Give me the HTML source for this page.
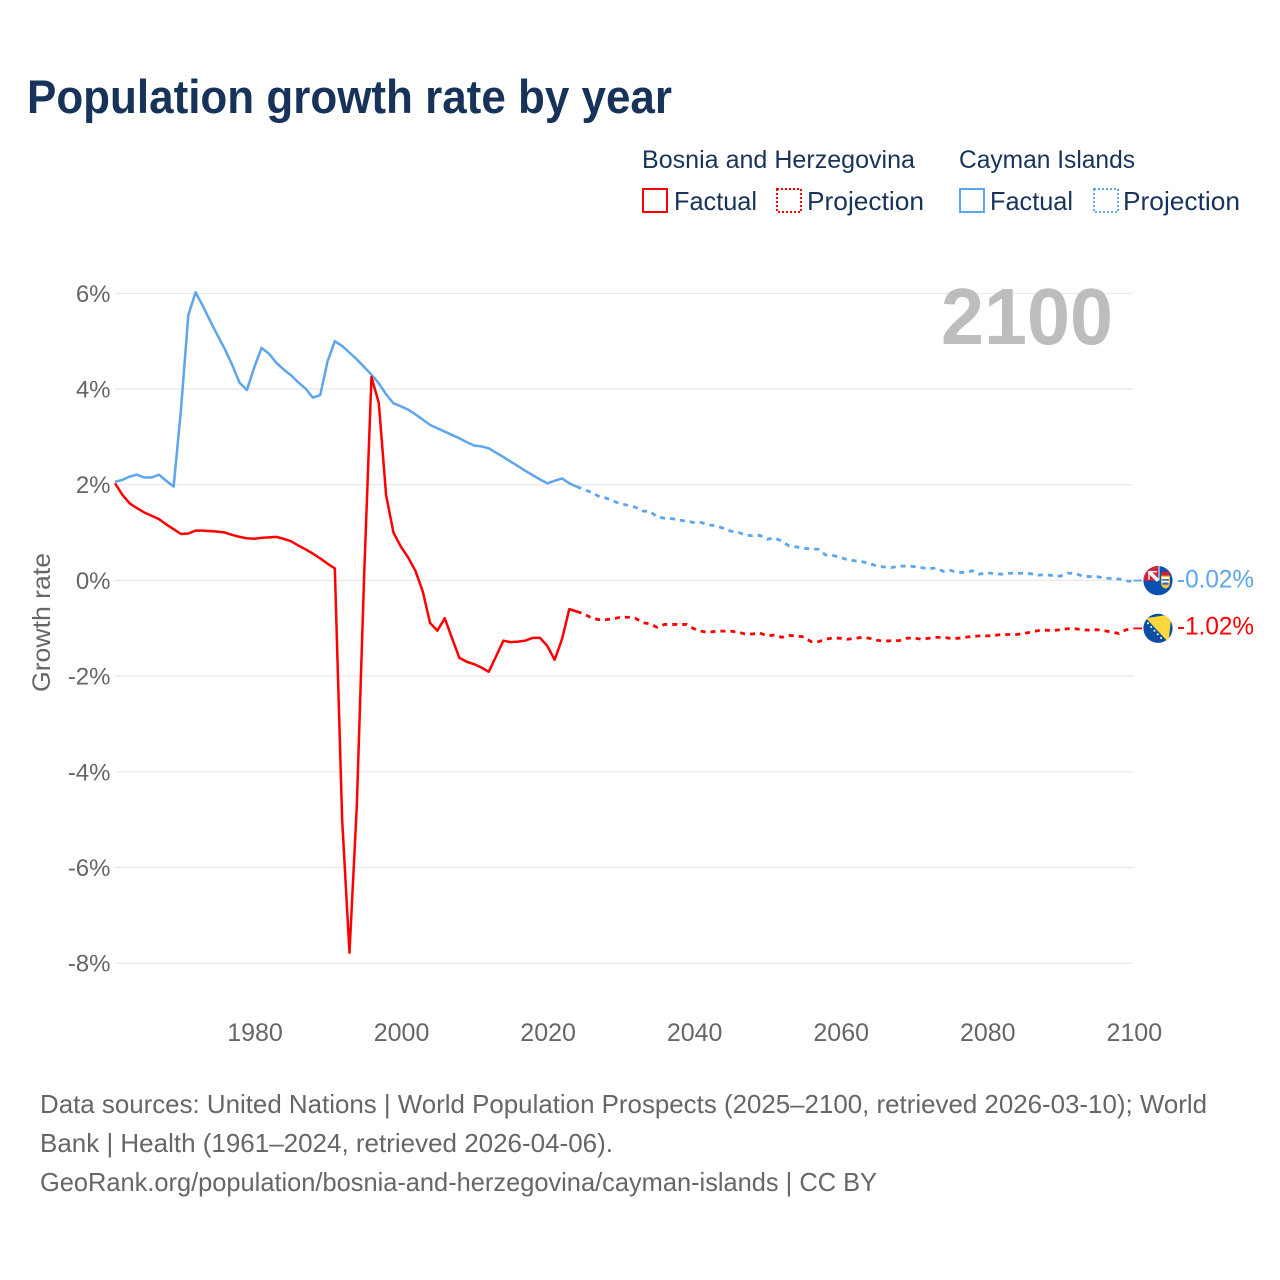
<!DOCTYPE html>
<html lang="en">
<head>
<meta charset="utf-8">
<title>Population growth rate by year</title>
<style>
html,body{margin:0;padding:0;background:#fff;width:1280px;height:1280px;overflow:hidden}
svg{display:block}
text{font-family:"Liberation Sans",sans-serif}
.ink{fill:#17335a}
.muted{fill:#666}
</style>
</head>
<body>
<svg id="chart" width="1280" height="1280" viewBox="0 0 1280 1280" xmlns="http://www.w3.org/2000/svg">
  <defs>
    <clipPath id="flag-clip-a"><circle cx="0" cy="0" r="14.6"/></clipPath>
    <clipPath id="flag-clip-b"><circle cx="0" cy="0" r="14.6"/></clipPath>
  </defs>
  <rect width="1280" height="1280" fill="#fff"/>

  <text class="ink" x="27" y="113" font-size="47" font-weight="700" textLength="645" lengthAdjust="spacingAndGlyphs">Population growth rate by year</text>

  <g>
    <text class="ink" x="642" y="168" font-size="25" textLength="273" lengthAdjust="spacingAndGlyphs">Bosnia and Herzegovina</text>
    <text class="ink" x="959" y="168" font-size="25" textLength="176" lengthAdjust="spacingAndGlyphs">Cayman Islands</text>
    <rect x="643" y="189" width="24" height="23" fill="none" stroke="#ff0000" stroke-width="2"/>
    <text class="ink" x="674" y="210" font-size="26" textLength="83" lengthAdjust="spacingAndGlyphs">Factual</text>
    <rect x="777" y="189" width="24" height="23" fill="none" stroke="#ff0000" stroke-width="2" stroke-dasharray="2 2"/>
    <text class="ink" x="807" y="210" font-size="26" textLength="117" lengthAdjust="spacingAndGlyphs">Projection</text>
    <rect x="960" y="189" width="24" height="23" fill="none" stroke="#5da5ec" stroke-width="2"/>
    <text class="ink" x="990" y="210" font-size="26" textLength="83" lengthAdjust="spacingAndGlyphs">Factual</text>
    <rect x="1094" y="189" width="24" height="23" fill="none" stroke="#5da5ec" stroke-width="2" stroke-dasharray="2 2"/>
    <text class="ink" x="1123" y="210" font-size="26" textLength="117" lengthAdjust="spacingAndGlyphs">Projection</text>
  </g>

  <g id="grid"></g>
  <g id="y-axis"></g>
  <g id="x-axis"></g>
  <text class="muted" transform="translate(50,692) rotate(-90)" font-size="25" textLength="139" lengthAdjust="spacingAndGlyphs">Growth rate</text>

  <text id="year-stamp" x="941" y="344" font-size="80" font-weight="700" fill="#bdbdbd" textLength="172" lengthAdjust="spacingAndGlyphs">2100</text>

  <g id="series"></g>

  <g id="flag-cayman">
    <g clip-path="url(#flag-clip-a)">
      <rect x="-15" y="-15" width="30" height="30" fill="#0a50b0"/>
      <rect x="-15" y="-15" width="15" height="15" fill="#d81f3c"/>
      <path d="M-9-9 L0 0" stroke="#fff" stroke-width="3.5"/>
      <path d="M-9-1 L-9-9 L-1-9" fill="none" stroke="#fff" stroke-width="1.4"/>
      <path d="M1-15 L1 0" stroke="#fff" stroke-width="1"/>
      <rect x="3.5" y="-9" width="8" height="4" rx="1" fill="#d81f30"/>
      <path d="M3 -5 H12 V2 Q12 7 7.5 8 Q3 7 3 2 Z" fill="#f2c230"/>
      <path d="M4-3.5 H11 V-1.5 H4 Z M4 0 H11 V2 H4 Z" fill="#fff"/>
      <path d="M4-1.5 H11 V0 H4 Z M4.5 2 H10.5 V4 H4.5 Z" fill="#2a62c0"/>
    </g>
  </g>
  <g id="flag-bosnia">
    <g clip-path="url(#flag-clip-b)">
      <rect x="-15" y="-15" width="30" height="30" fill="#0b4ea2"/>
      <path d="M-12-10 L13.5-14 L10.5 14 Z" fill="#fed83a"/>
      <g fill="#fff">
        <circle cx="-10" cy="-5" r="1"/>
        <circle cx="-6.8" cy="-1.3" r="1"/>
        <circle cx="-3.5" cy="2.4" r="1"/>
        <circle cx="-0.2" cy="6" r="1"/>
        <circle cx="3.1" cy="9.7" r="1"/>
      </g>
    </g>
  </g>
  <text id="end-label-cayman" x="1177" font-size="25" fill="#5da5ec" textLength="77" lengthAdjust="spacingAndGlyphs"></text>
  <text id="end-label-bosnia" x="1177" font-size="25" fill="#ff0000" textLength="77" lengthAdjust="spacingAndGlyphs"></text>

  <g class="muted" font-size="26">
    <text x="40" y="1113" textLength="1167" lengthAdjust="spacingAndGlyphs">Data sources: United Nations | World Population Prospects (2025–2100, retrieved 2026-03-10); World</text>
    <text x="40" y="1152" textLength="573" lengthAdjust="spacingAndGlyphs">Bank | Health (1961–2024, retrieved 2026-04-06).</text>
    <text x="40" y="1191" textLength="837" lengthAdjust="spacingAndGlyphs">GeoRank.org/population/bosnia-and-herzegovina/cayman-islands | CC BY</text>
  </g>
</svg>

<script>
const factualFirstYear = 1961;
const projectionFirstYear = 2024;
const lastYear = 2100;
const xTickLabels = [1980, 2000, 2020, 2040, 2060, 2080, 2100];
const yTickLabels = [6, 4, 2, 0, -2, -4, -6, -8];

const caymanFactual = [
  2.06,2.10,2.17,2.21,2.15,2.15,2.21,2.08,1.96,3.56,
  5.54,6.02,5.73,5.42,5.12,4.83,4.50,4.13,3.98,4.45,
  4.86,4.74,4.55,4.41,4.29,4.14,4.01,3.82,3.87,4.57,
  5.00,4.90,4.76,4.62,4.46,4.30,4.12,3.89,3.70,3.64,
  3.57,3.47,3.36,3.25,3.18,3.11,3.04,2.97,2.89,2.82,
  2.80,2.76,2.67,2.58,2.48,2.39,2.29,2.20,2.11,2.03,
  2.08,2.13,2.03,1.96
];
const caymanProjection = [
  1.96,1.90,1.84,1.76,1.72,1.66,1.60,1.57,1.53,1.45,
  1.44,1.33,1.30,1.29,1.26,1.24,1.21,1.21,1.16,1.14,
  1.09,1.03,1.01,0.95,0.93,0.94,0.86,0.89,0.82,0.72,
  0.70,0.67,0.66,0.65,0.53,0.52,0.48,0.43,0.41,0.39,
  0.35,0.30,0.28,0.27,0.30,0.30,0.29,0.27,0.24,0.26,
  0.19,0.21,0.16,0.17,0.20,0.13,0.16,0.14,0.13,0.15,
  0.15,0.15,0.14,0.11,0.12,0.10,0.09,0.15,0.15,0.09,
  0.08,0.08,0.05,0.04,0.03,-0.01,-0.02
];
const bosniaFactual = [
  2.03,1.79,1.61,1.51,1.42,1.35,1.28,1.17,1.07,0.97,
  0.98,1.04,1.04,1.03,1.02,1.00,0.95,0.91,0.88,0.87,
  0.89,0.90,0.91,0.87,0.82,0.73,0.65,0.56,0.46,0.35,
  0.25,-5.00,-7.78,-4.72,0.10,4.25,3.71,1.78,1.00,0.71,
  0.48,0.20,-0.23,-0.89,-1.05,-0.79,-1.21,-1.62,-1.70,-1.75,
  -1.82,-1.91,-1.59,-1.26,-1.29,-1.28,-1.26,-1.20,-1.20,-1.37,
  -1.66,-1.23,-0.60,-0.65
];
const bosniaProjection = [
  -0.65,-0.70,-0.78,-0.82,-0.82,-0.80,-0.77,-0.77,-0.79,-0.88,
  -0.91,-0.98,-0.92,-0.92,-0.92,-0.92,-1.01,-1.06,-1.09,-1.06,
  -1.06,-1.06,-1.08,-1.12,-1.12,-1.10,-1.16,-1.14,-1.19,-1.15,
  -1.16,-1.18,-1.28,-1.28,-1.23,-1.20,-1.21,-1.23,-1.21,-1.19,
  -1.21,-1.25,-1.27,-1.26,-1.26,-1.21,-1.20,-1.23,-1.21,-1.19,
  -1.19,-1.21,-1.21,-1.19,-1.17,-1.16,-1.16,-1.15,-1.13,-1.13,
  -1.13,-1.11,-1.08,-1.05,-1.04,-1.05,-1.03,-1.01,-1.01,-1.03,
  -1.04,-1.03,-1.05,-1.08,-1.11,-1.03,-1.02
];

const plotLeft = 115, plotRight = 1133.5, zeroY = 580.4, pxPerPercent = 47.85;
const RED = '#ff0000', BLUE = '#5da5ec';
const NS = 'http://www.w3.org/2000/svg';

function xScale(year) {
  return plotLeft + (year - factualFirstYear) * (plotRight - plotLeft) / (lastYear - factualFirstYear);
}
function yScale(value) {
  return zeroY - value * pxPerPercent;
}
function linePath(values, firstYear) {
  return values.map(function (v, i) {
    return (i ? 'L' : 'M') + xScale(firstYear + i).toFixed(2) + ' ' + yScale(v).toFixed(2);
  }).join(' ');
}
function make(tag, parentId) {
  const el = document.createElementNS(NS, tag);
  document.getElementById(parentId).appendChild(el);
  return el;
}

yTickLabels.forEach(function (t) {
  const line = make('line', 'grid');
  
  
  line.setAttribute('x1', plotLeft);
  line.setAttribute('x2', plotRight);
  line.setAttribute('y1', yScale(t));
  line.setAttribute('y2', yScale(t));
  line.setAttribute('stroke', '#e8e8e8');
  line.setAttribute('stroke-width', '1.2');

  const label = make('text', 'y-axis');
  
  
  label.setAttribute('x', 110.5);
  label.setAttribute('y', yScale(t) + 8.5);
  label.setAttribute('text-anchor', 'end');
  label.setAttribute('font-size', '24');
  label.setAttribute('fill', '#666');
  label.textContent = t + '%';
});

xTickLabels.forEach(function (t) {
  const label = make('text', 'x-axis');
  
  
  label.setAttribute('x', xScale(t) + 0.8);
  label.setAttribute('y', 1041);
  label.setAttribute('text-anchor', 'middle');
  label.setAttribute('font-size', '25');
  label.setAttribute('fill', '#666');
  label.textContent = t;
});

function drawLine(values, firstYear, color, dashed, name) {
  const p = make('path', 'series');
  
  
  p.setAttribute('d', linePath(values, firstYear));
  p.setAttribute('fill', 'none');
  p.setAttribute('stroke', color);
  p.setAttribute('stroke-width', dashed ? '2.8' : '2.5');
  p.setAttribute('stroke-linejoin', 'round');
  if (dashed) p.setAttribute('stroke-dasharray', '5 5');
}
function drawConnector(value, color, name) {
  const c = make('line', 'series');
  
  
  c.setAttribute('x1', xScale(lastYear));
  c.setAttribute('x2', 1142);
  c.setAttribute('y1', yScale(value) - 0.8);
  c.setAttribute('y2', yScale(value) - 0.8);
  c.setAttribute('stroke', color);
  c.setAttribute('stroke-width', '1.8');
}

drawLine(caymanFactual, factualFirstYear, BLUE, false, 'cayman-factual-line');
drawLine(caymanProjection, projectionFirstYear, BLUE, true, 'cayman-projection-line');
drawLine(bosniaFactual, factualFirstYear, RED, false, 'bosnia-factual-line');
drawLine(bosniaProjection, projectionFirstYear, RED, true, 'bosnia-projection-line');

const caymanEnd = caymanProjection[caymanProjection.length - 1];
const bosniaEnd = bosniaProjection[bosniaProjection.length - 1];
drawConnector(caymanEnd, BLUE, 'cayman-end-connector');
drawConnector(bosniaEnd, RED, 'bosnia-end-connector');

document.getElementById('flag-cayman').setAttribute('transform', 'translate(1158,' + (yScale(caymanEnd) - 0.7) + ')');
document.getElementById('flag-bosnia').setAttribute('transform', 'translate(1158,' + (yScale(bosniaEnd) - 0.9) + ')');

const caymanLabel = document.getElementById('end-label-cayman');
caymanLabel.setAttribute('y', yScale(caymanEnd) + 6);
caymanLabel.textContent = caymanEnd.toFixed(2) + '%';
const bosniaLabel = document.getElementById('end-label-bosnia');
bosniaLabel.setAttribute('y', yScale(bosniaEnd) + 5.5);
bosniaLabel.textContent = bosniaEnd.toFixed(2) + '%';
</script>
</body>
</html>
